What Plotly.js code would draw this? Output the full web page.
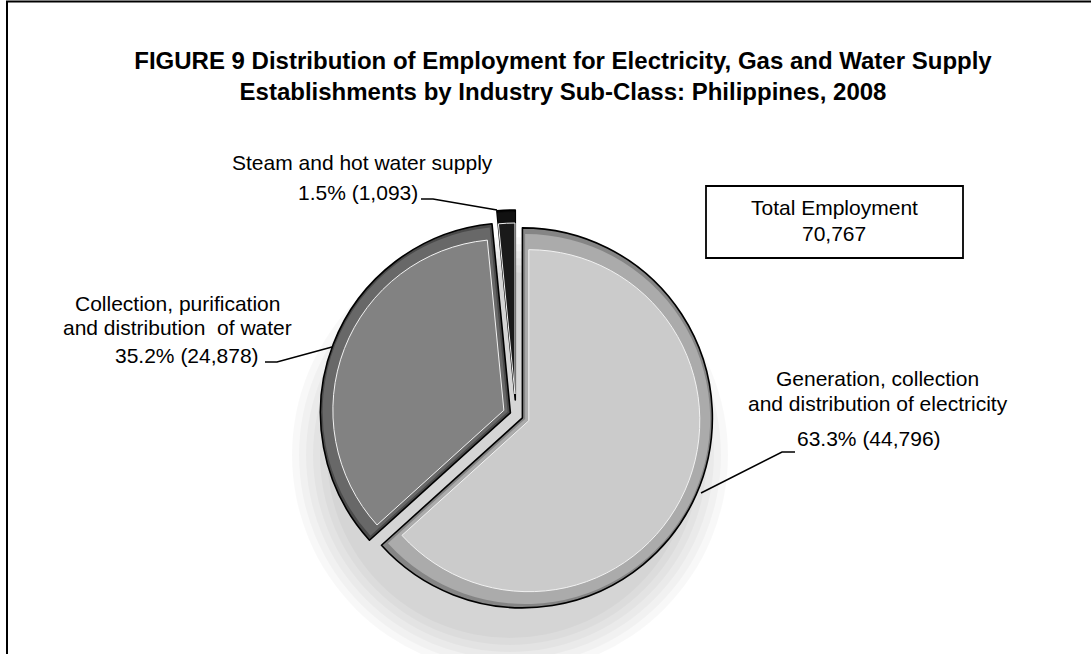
<!DOCTYPE html>
<html>
<head>
<meta charset="utf-8">
<script src="https://cdn.plot.ly/plotly-3.0.1.min.js"></script>
<style>html,body{margin:0;padding:0;background:#fff;}#chart{width:1091px;height:654px;}</style>
</head>
<body>
<div id="chart"></div>
<script>
// ---- data ----
const categories = ['Generation, collection and distribution of electricity',
                    'Collection, purification and distribution of water',
                    'Steam and hot water supply'];
const employment = [44796, 24878, 1093];
const sharePct = [63.3, 35.2, 1.5];
const totalEmployment = 70767;
const labelLines = [['Generation, collection', 'and distribution of electricity'],
                    ['Collection, purification', 'and distribution  of water'],
                    ['Steam and hot water supply']];
const titleLines = ['FIGURE 9 Distribution of Employment for Electricity, Gas and Water Supply',
                    'Establishments by Industry Sub-Class: Philippines, 2008'];

// ---- layout helpers (pixel -> paper) ----
const W = 1091, H = 654;
const px = x => x / W;
const py = y => 1 - y / H;
const CX = 516, CY = 415, R = 190;
const FONT = 'Liberation Sans, Arial, Helvetica, sans-serif';

function pieTrace(r, pullPx, colors, line) {
  const maxPx = Math.max(...pullPx);
  const half = r + maxPx;
  return {
    type: 'pie',
    values: employment,
    labels: categories,
    sort: false,
    direction: 'clockwise',
    rotation: 0,
    pull: pullPx.map(p => p / r),
    textinfo: 'none',
    hoverinfo: 'label+value+percent',
    showlegend: false,
    marker: {colors: colors, line: line},
    domain: {x: [px(CX - half), px(CX + half)], y: [py(CY + half), py(CY - half)]}
  };
}

const traces = [
  pieTrace(R, [7, 6, 15], ['#858585', '#4a4a4a', '#0a0a0a'], {color: '#000', width: 1.6}),
  pieTrace(R - 5, [10, 9, 18], ['#ababab', '#686868', '#111111'], {color: 'rgba(0,0,0,0)', width: 0}),
  pieTrace(R - 19, [14, 13, 21], ['#cbcbcb', '#828282', '#1a1a1a'], {color: '#f2f2f2', width: 1})
];

const fmt = n => n.toLocaleString('en-US');
const pctLabel = i => sharePct[i].toFixed(1) + '% (' + fmt(employment[i]) + ')';

function ann(text, x, y, size, extra) {
  return Object.assign({
    text: text, x: px(x), y: py(y), xref: 'paper', yref: 'paper',
    xanchor: 'center', yanchor: 'middle', showarrow: false,
    font: {family: FONT, size: size || 21, color: '#000'}
  }, extra || {});
}

const annotations = [
  // Generation
  ann(labelLines[0][0], 878, 378),
  ann(labelLines[0][1], 878, 403),
  ann(pctLabel(0), 869, 438),
  // Collection
  ann(labelLines[1][0], 177, 303),
  ann(labelLines[1][1], 177, 328),
  ann(pctLabel(1), 187, 355),
  // Steam
  ann(labelLines[2][0], 362, 162),
  ann(pctLabel(2), 358, 192),
  // Total box
  ann('Total Employment', 834, 208),
  ann(fmt(totalEmployment), 834, 233)
];

function path(pts) {
  return 'M' + pts.map(p => px(p[0]) + ',' + py(p[1])).join(' L');
}

const shapes = [];
// soft shadow under the pie
[218, 211, 204, 197, 190, 183].forEach(r => {
  shapes.push({type: 'circle', xref: 'paper', yref: 'paper', layer: 'below',
    x0: px(510 - r), x1: px(510 + r), y0: py(455 + r), y1: py(455 - r),
    fillcolor: 'rgba(0,0,0,0.028)', line: {width: 0}});
});
// outer frame
shapes.push({type: 'rect', xref: 'paper', yref: 'paper',
  x0: px(7), x1: px(1100), y0: py(700), y1: py(1.5), line: {color: '#000', width: 2}});
// total box
shapes.push({type: 'rect', xref: 'paper', yref: 'paper',
  x0: px(706), x1: px(963), y0: py(258), y1: py(186), line: {color: '#000', width: 1.8}});
// leader lines
const leader = pts => ({type: 'path', xref: 'paper', yref: 'paper', path: path(pts),
  line: {color: '#000', width: 1.5}});
shapes.push(leader([[421, 199], [433, 199], [497, 210]]));
shapes.push(leader([[265, 362], [277, 362], [332, 347]]));
shapes.push(leader([[701, 493], [782, 452], [795, 452]]));

const layout = {
  width: W, height: H, autosize: false,
  margin: {l: 0, r: 0, t: 0, b: 0},
  paper_bgcolor: '#fff', plot_bgcolor: '#fff',
  title: {
    text: '<b>' + titleLines[0] + '</b><br><b>' + titleLines[1] + '</b>',
    font: {family: FONT, size: 24, color: '#000'},
    x: px(563), xanchor: 'center', xref: 'paper',
    y: py(69), yanchor: 'middle', yref: 'container'
  },
  annotations: annotations,
  shapes: shapes
};

Plotly.newPlot('chart', traces, layout, {displayModeBar: false, staticPlot: true});
</script>
</body>
</html>
